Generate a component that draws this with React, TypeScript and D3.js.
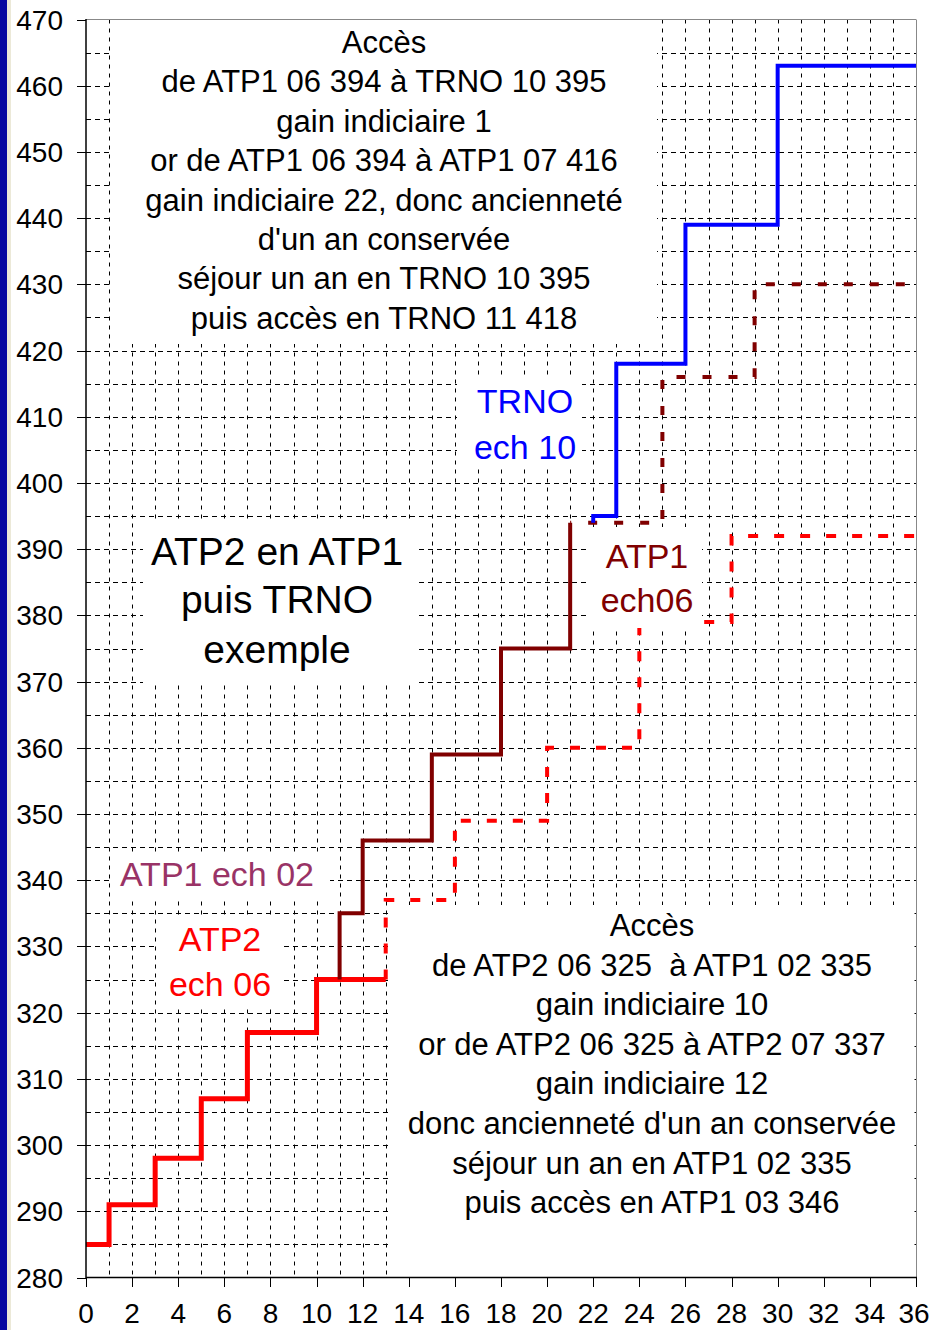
import React from "react";
import * as d3 from "d3";

// ---- data ----
const xTicks = [0, 2, 4, 6, 8, 10, 12, 14, 16, 18, 20, 22, 24, 26, 28, 30, 32, 34, 36];
const yTicks = [280, 290, 300, 310, 320, 330, 340, 350, 360, 370, 380, 390, 400, 410, 420, 430, 440, 450, 460, 470];

// ATP2 (solid red), step after
const atp2X = [0, 1, 3, 5, 7, 10, 13];
const atp2Y = [285, 291, 298, 307, 317, 325, 325];
// ATP2 continued (dashed red)
const atp2ContX = [13, 13, 16, 20, 24, 28, 36];
const atp2ContY = [325, 337, 349, 360, 379, 392, 392];
// ATP1 (solid dark red)
const atp1X = [11, 11, 12, 15, 18, 21];
const atp1Y = [325, 335, 346, 359, 375, 394];
// ATP1 continued (dashed dark red)
const atp1ContX = [21, 25, 29, 36];
const atp1ContY = [394, 416, 430, 430];
// TRNO (solid blue)
const trnoX = [22, 22, 23, 26, 30, 36];
const trnoY = [394, 395, 418, 439, 463, 463];

const topBoxLines = [
  "Accès",
  "de ATP1 06 394 à TRNO 10 395",
  "gain indiciaire 1",
  "or de ATP1 06 394 à ATP1 07 416",
  "gain indiciaire 22, donc ancienneté",
  "d'un an conservée",
  "séjour un an en TRNO 10 395",
  "puis accès en TRNO 11 418",
];
const bottomBoxLines = [
  "Accès",
  "de ATP2 06 325\u00a0 à ATP1 02 335",
  "gain indiciaire 10",
  "or de ATP2 06 325 à ATP2 07 337",
  "gain indiciaire 12",
  "donc ancienneté d'un an conservée",
  "séjour un an en ATP1 02 335",
  "puis accès en ATP1 03 346",
];
const titleLines = ["ATP2 en ATP1", "puis TRNO", "exemple"];

const W = 933;
const H = 1330;
const FONT = "'Liberation Sans', Arial, sans-serif";

export default function App() {
  const x = d3.scaleLinear().domain([0, 36]).range([86, 916]);
  const y = d3.scaleLinear().domain([280, 470]).range([1277.5, 19.5]);

  const line = d3
    .line<[number, number]>()
    .x((d) => x(d[0]))
    .y((d) => y(d[1]))
    .curve(d3.curveStepAfter);
  const pts = (xs: number[], ys: number[]) => xs.map((v, i) => [v, ys[i]] as [number, number]);

  const vGrid = d3.range(1, 36);
  const hGrid = d3.range(285, 470, 5);

  const box = (x0: number, y0: number, x1: number, y1: number, key: string) => (
    <rect key={key} x={x0} y={y0} width={x1 - x0} height={y1 - y0} fill="#fff" />
  );

  return (
    <svg
      width={W}
      height={H}
      style={{ position: "absolute", left: 0, top: 0, background: "#fff" }}
      fontFamily={FONT}
    >
      <rect x={0} y={0} width={W} height={H} fill="#fff" />
      <rect x={0} y={0} width={7} height={H} fill="#0808a0" />
      <rect x={7} y={0} width={4} height={H} fill="#ece9d8" />

      {/* grid */}
      <g stroke="#000" strokeWidth={1}>
        {vGrid.map((v) => (
          <line
            key={"v" + v}
            x1={Math.round(x(v)) + 0.5}
            x2={Math.round(x(v)) + 0.5}
            y1={y(470)}
            y2={y(280)}
            strokeDasharray="4,5"
          />
        ))}
        {hGrid.map((v) => (
          <line
            key={"h" + v}
            x1={x(0)}
            x2={x(36)}
            y1={Math.round(y(v)) + 0.5}
            y2={Math.round(y(v)) + 0.5}
            strokeDasharray="5,4"
          />
        ))}
      </g>

      {/* series */}
      <g fill="none" strokeLinejoin="miter" strokeLinecap="butt">
        <path d={line(pts(atp2ContX, atp2ContY)) || ""} stroke="#ff0000" strokeWidth={4} strokeDasharray="10,16" />
        <path d={line(pts(atp1ContX, atp1ContY)) || ""} stroke="#800000" strokeWidth={4} strokeDasharray="9,17" strokeDashoffset={8} />
        <path d={line(pts(atp2X, atp2Y)) || ""} stroke="#ff0000" strokeWidth={5} />
        <path d={line(pts(atp1X, atp1Y)) || ""} stroke="#800000" strokeWidth={4} />
        <path d={line(pts(trnoX, trnoY)) || ""} stroke="#0000ff" strokeWidth={4} />
      </g>

      {/* white label boxes */}
      {box(112, 20, 657, 344, "bt")}
      {box(388, 905, 914.5, 1277, "bb")}
      {box(143, 519, 418, 685, "btitle")}
      {box(457, 377, 582, 465, "btrno")}
      {box(588, 527, 702, 628, "batp1")}
      {box(112, 853, 330, 900, "batp102")}
      {box(157, 916, 282, 1008, "batp2")}

      {/* box texts */}
      <g fontSize={31} fill="#000" textAnchor="middle">
        {topBoxLines.map((t, i) => (
          <text key={"t" + i} x={384} y={53 + 39.4 * i}>
            {t}
          </text>
        ))}
        {bottomBoxLines.map((t, i) => (
          <text key={"b" + i} x={652} y={936 + 39.6 * i}>
            {t}
          </text>
        ))}
      </g>
      <g fontSize={39} fill="#000" textAnchor="middle">
        {titleLines.map((t, i) => (
          <text key={"ti" + i} x={277} y={[565, 613, 663][i]}>
            {t}
          </text>
        ))}
      </g>
      <g fontSize={34} textAnchor="middle">
        <text x={525} y={413} fill="#0000ff">TRNO</text>
        <text x={525} y={459} fill="#0000ff">ech 10</text>
        <text x={647} y={568} fill="#800000">ATP1</text>
        <text x={647} y={612} fill="#800000">ech06</text>
        <text x={217} y={886} fill="#993366">ATP1 ech 02</text>
        <text x={220} y={951} fill="#ff0000">ATP2</text>
        <text x={220} y={996} fill="#ff0000">ech 06</text>
      </g>

      {/* frame */}
      <line x1={x(0)} x2={x(36)} y1={19.5} y2={19.5} stroke="#888" strokeWidth={1} />
      <line x1={916.5} x2={916.5} y1={19.5} y2={y(280)} stroke="#888" strokeWidth={1} />

      {/* axes */}
      <g stroke="#000" strokeWidth={1.5}>
        <line x1={86} x2={86} y1={19} y2={1278} />
        <line x1={86} x2={917} y1={1277.5} y2={1277.5} />
        {yTicks.map((v) => (
          <line key={"yt" + v} x1={77} x2={86} y1={Math.round(y(v)) + 0.5} y2={Math.round(y(v)) + 0.5} strokeWidth={1} />
        ))}
        {xTicks.map((v) => (
          <line key={"xt" + v} x1={Math.round(x(v)) + 0.5} x2={Math.round(x(v)) + 0.5} y1={1277.5} y2={1287} strokeWidth={1} />
        ))}
      </g>
      <g fontSize={28} fill="#000">
        {yTicks.map((v) => (
          <text key={"yl" + v} x={63} y={y(v) + 10} textAnchor="end">
            {v}
          </text>
        ))}
        {xTicks.map((v) => (
          <text key={"xl" + v} x={Math.min(x(v), 914)} y={1323} textAnchor="middle">
            {v}
          </text>
        ))}
      </g>
    </svg>
  );
}
